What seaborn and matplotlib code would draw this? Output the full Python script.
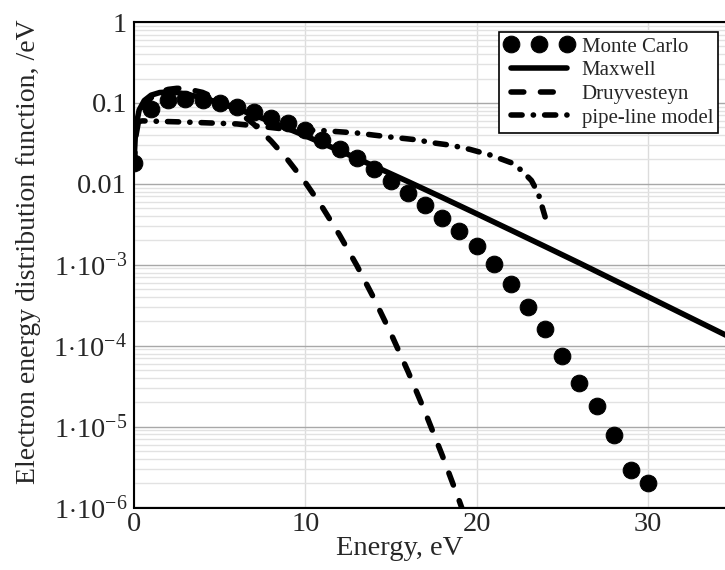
import matplotlib
matplotlib.use('Agg')
import matplotlib.pyplot as plt
import seaborn as sns
from matplotlib.ticker import FixedLocator, FixedFormatter, LogLocator, NullFormatter

# Monte Carlo EEDF (points every 1 eV)
mc_energy = [0, 1, 2, 3, 4, 5, 6, 7, 8, 9, 10, 11, 12, 13, 14, 15,
             16, 17, 18, 19, 20, 21, 22, 23, 24, 25, 26, 27, 28, 29, 30]
mc_eedf = [0.018, 0.083, 0.109, 0.112, 0.108, 0.099, 0.089, 0.078, 0.066, 0.056,
           0.046, 0.035, 0.027, 0.0207, 0.0151, 0.0109, 0.00776, 0.00547, 0.00374,
           0.00263, 0.0017, 0.00101, 5.73e-4, 3.03e-4, 1.6e-4, 7.37e-5, 3.48e-5,
           1.78e-5, 7.85e-6, 2.9e-6, 2.0e-6]

# Maxwell curve
maxwell_energy = [0.02, 0.1, 0.3, 0.6, 1, 1.5, 2, 2.5, 3, 4, 5, 6, 7, 8, 10, 12,
                  14, 16, 18, 20, 22, 24, 26, 28, 30, 32, 34, 35]
maxwell_eedf = [0.0227, 0.0497, 0.0817, 0.107, 0.1247, 0.1343, 0.1364, 0.1342,
                0.1293, 0.1156, 0.100, 0.0847, 0.0708, 0.0586, 0.0392, 0.0257,
                0.0166, 0.01065, 0.00677, 0.00427, 0.00268, 0.00168, 0.00105,
                6.5e-4, 4.03e-4, 2.49e-4, 1.54e-4, 1.21e-4]

# Druyvesteyn curve
druy_energy = [0.02, 0.1, 0.3, 0.6, 1, 1.5, 2, 2.5, 3, 4, 5, 6, 7, 8, 9, 10,
               11, 12, 13, 14, 15, 16, 17, 18, 19, 20]
druy_eedf = [0.017, 0.038, 0.0655, 0.0917, 0.1158, 0.1355, 0.147, 0.1515, 0.1503,
             0.1349, 0.1091, 0.0804, 0.0544, 0.0339, 0.0195, 0.0104, 0.00511,
             0.00233, 9.86e-4, 3.87e-4, 1.41e-4, 4.77e-5, 1.5e-5, 4.38e-6,
             1.19e-6, 3.0e-7]

# pipe-line model
pipe_energy = [0, 0.5, 3, 6, 7.5, 9, 11, 13, 14, 15, 16.5, 17.5, 18.5, 19.6,
               20.8, 22, 22.6, 23.2, 23.6, 24.0]
pipe_eedf = [0.058, 0.060, 0.058, 0.055, 0.051, 0.047, 0.0455, 0.0425, 0.040,
             0.0378, 0.035, 0.032, 0.030, 0.0267, 0.0227, 0.0183, 0.0148,
             0.0110, 0.0076, 0.0039]

ytick_values = [1e-6, 1e-5, 1e-4, 1e-3, 0.01, 0.1, 1]
ytick_labels = [r'$1{\cdot}10^{-6}$', r'$1{\cdot}10^{-5}$', r'$1{\cdot}10^{-4}$',
                r'$1{\cdot}10^{-3}$', '0.01', '0.1', '1']
xtick_values = [0, 10, 20, 30]

sns.set_style('white')
plt.rcParams['font.family'] = ['Liberation Serif', 'DejaVu Serif']
plt.rcParams['mathtext.fontset'] = 'custom'
plt.rcParams['mathtext.rm'] = 'Liberation Serif'
plt.rcParams['mathtext.it'] = 'Liberation Serif:italic'

fig = plt.figure(figsize=(7.25, 5.7), dpi=100)
ax = fig.add_axes([134 / 725, 1 - 507.5 / 570, 1 - 134 / 725, (507.5 - 22) / 570])

lw = 4.0
sns.lineplot(x=maxwell_energy, y=maxwell_eedf, ax=ax, color='black', lw=lw,
             label='Maxwell')
sns.lineplot(x=druy_energy, y=druy_eedf, ax=ax, color='black', lw=lw,
             label='Druyvesteyn')
ax.lines[-1].set_dashes((2.3, 3.0))
ax.lines[-1].set_dash_capstyle('round')
sns.lineplot(x=pipe_energy, y=pipe_eedf, ax=ax, color='black', lw=lw,
             label='pipe-line model')
ax.lines[-1].set_dashes((2.0, 2.0, 0.05, 2.0))
ax.lines[-1].set_dash_capstyle('round')
sns.lineplot(x=mc_energy, y=mc_eedf, ax=ax, color='black', marker='o',
             markersize=12, markeredgecolor='black', linestyle='',
             label='Monte Carlo')

ax.set_yscale('log')
ax.set_ylim(1e-6, 1)
ax.set_xlim(0, 34.5)

ax.yaxis.set_major_locator(FixedLocator(ytick_values))
ax.yaxis.set_major_formatter(FixedFormatter(ytick_labels))
ax.yaxis.set_minor_locator(LogLocator(base=10, subs=range(2, 10), numticks=20))
ax.yaxis.set_minor_formatter(NullFormatter())
ax.xaxis.set_major_locator(FixedLocator(xtick_values))

ax.grid(which='major', axis='y', color='#a8a8a8', lw=1.0)
ax.grid(which='minor', axis='y', color='#e2e2e2', lw=1.0)
ax.grid(which='major', axis='x', color='#dcdcdc', lw=1.0)
ax.set_axisbelow(True)

ax.tick_params(which='both', length=0, labelsize=20.5, pad=5)
ax.tick_params(axis='x', pad=3)
for side in ['left', 'bottom', 'top']:
    ax.spines[side].set_color('black')
    ax.spines[side].set_linewidth(1.5)
ax.spines['right'].set_visible(False)

ax.set_xlabel('Energy, eV', fontsize=20.5)
ax.set_ylabel('Electron energy distribution function, /eV', fontsize=20)
ax.xaxis.set_label_coords(0.45, -0.058)
ax.yaxis.set_label_coords(-0.158, 0.526)

handles, labels = ax.get_legend_handles_labels()
order = [labels.index(n) for n in ['Monte Carlo', 'Maxwell', 'Druyvesteyn', 'pipe-line model']]
leg = ax.legend([handles[i] for i in order], [labels[i] for i in order],
                loc='upper right', bbox_to_anchor=(0.989, 0.98), borderaxespad=0,
                fontsize=15, numpoints=3, handlelength=3.3, handletextpad=0.4,
                labelspacing=0.2, borderpad=0.25, fancybox=False, framealpha=1)
leg.get_frame().set_edgecolor('black')
leg.get_frame().set_linewidth(1.2)

fig.savefig('out.png', dpi=100)
